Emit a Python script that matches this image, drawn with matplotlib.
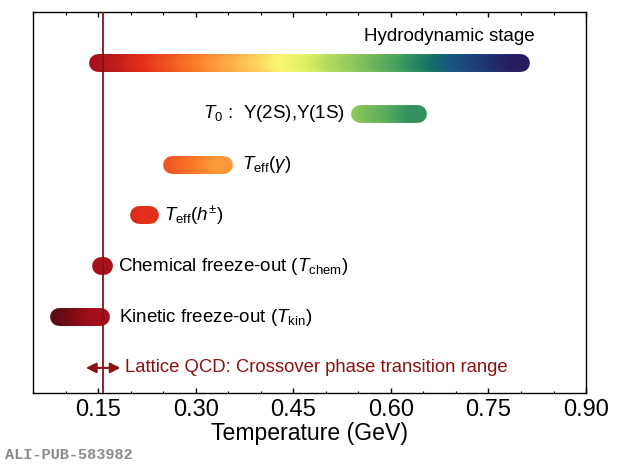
import numpy as np
import matplotlib
matplotlib.use('Agg')
import matplotlib.pyplot as plt
from matplotlib.colors import LinearSegmentedColormap, Normalize

plt.rcParams['font.family'] = ['Liberation Sans', 'DejaVu Sans']
plt.rcParams['mathtext.fontset'] = 'custom'
plt.rcParams['mathtext.rm'] = 'Liberation Sans'
plt.rcParams['mathtext.it'] = 'Liberation Sans:italic'
plt.rcParams['mathtext.bf'] = 'Liberation Sans:bold'

# temperature ranges (GeV), top row first
stage_names = ['hydro', 'T0', 'Teff_gamma', 'Teff_h', 'chem', 'kin']
stage_rows = [7, 6, 5, 4, 3, 2]
stage_lo = [0.150, 0.552, 0.264, 0.212, 0.154, 0.090]
stage_hi = [0.800, 0.641, 0.344, 0.230, 0.158, 0.154]

stage_labels = [
    'Hydrodynamic stage',
    r'$T_0$ :  Υ(2S),Υ(1S)',
    r'$T_{\rm eff}(\gamma)$',
    r'$T_{\rm eff}(h^{\pm})$',
    r'Chemical freeze-out ($T_{\rm chem}$)',
    r'Kinetic freeze-out ($T_{\rm kin}$)',
]

# lattice QCD crossover
lattice_tc = 0.157
lattice_lo = 0.131
lattice_hi = 0.184
lattice_row = 1
lattice_label = 'Lattice QCD: Crossover phase transition range'

# colour as a function of temperature
cmap_T = [0.08, 0.15, 0.23, 0.31, 0.385, 0.44, 0.48, 0.52, 0.575, 0.63, 0.67, 0.70, 0.75, 0.80]
cmap_colors = ['#4a0a12', '#a30e1a', '#e4301a', '#fa7d2a', '#fdc050', '#f9f871', '#e0f060',
               '#b0d860', '#78bd5a', '#3c9a60', '#167464', '#17587e', '#1e3a78', '#261a5e']

norm = Normalize(cmap_T[0], cmap_T[-1])
cmap = LinearSegmentedColormap.from_list(
    'temp', list(zip([norm(t) for t in cmap_T], cmap_colors)))

xticks = [0.15, 0.30, 0.45, 0.60, 0.75, 0.90]
dark_red = '#8b1111'

fig = plt.figure(figsize=(6.2, 4.66), dpi=100)
ax = fig.add_axes([0.0537, 0.156, 0.8915, 0.818])

# gradient bars: overlapping round-capped pieces
step = 0.006
for lo, hi, row in zip(stage_lo, stage_hi, stage_rows):
    n = max(int(round((hi - lo) / step)), 1)
    edges = np.linspace(lo, hi, n + 1)
    for a, b in zip(edges[:-1], edges[1:]):
        ax.plot([a, b], [row, row], color=cmap(norm(0.5 * (a + b))), lw=12.8,
                solid_capstyle='round', zorder=2)

ax.axvline(lattice_tc, color=dark_red, lw=1.3, zorder=3)

ax.annotate('', xy=(lattice_lo, lattice_row), xytext=(lattice_hi, lattice_row),
            arrowprops=dict(arrowstyle='<|-|>', color=dark_red, lw=1.5,
                            mutation_scale=15, shrinkA=0, shrinkB=0))
ax.text(0.1917, lattice_row, lattice_label, color=dark_red, fontsize=13.3,
        ha='left', va='center')

fs = 13.5
ax.text(0.8216, 7.53, stage_labels[0], fontsize=fs, ha='right', va='center')
ax.text(0.530, 6.0, stage_labels[1], fontsize=fs, ha='right', va='center')
ax.text(0.371, 5.0, stage_labels[2], fontsize=fs, ha='left', va='center')
ax.text(0.2514, 4.0, stage_labels[3], fontsize=fs, ha='left', va='center')
ax.text(0.1808, 3.0, stage_labels[4], fontsize=fs, ha='left', va='center')
ax.text(0.1815, 2.0, stage_labels[5], fontsize=fs, ha='left', va='center')

ax.set_xlim(0.05, 0.90)
ax.set_ylim(0.5, 8.0)
ax.set_yticks([])
ax.set_xticks(xticks)
ax.set_xticklabels([f'{t:.2f}' for t in xticks])
ax.set_xticks(np.arange(0.05, 0.91, 0.05), minor=True)
ax.tick_params(axis='x', which='both', direction='in', top=True, labelsize=17, pad=4)
ax.tick_params(axis='x', which='major', length=3.5, width=1.0)
ax.tick_params(axis='x', which='minor', length=1.8, width=0.8)
for s in ax.spines.values():
    s.set_linewidth(1.0)
ax.set_xlabel('Temperature (GeV)', fontsize=16.6, labelpad=1)

fig.text(0.008, 0.024, 'ALI-PUB-583982', family='Liberation Mono', weight='bold',
         color='#8a8a8a', fontsize=11, ha='left', va='center')

fig.savefig('out.png', dpi=100)
